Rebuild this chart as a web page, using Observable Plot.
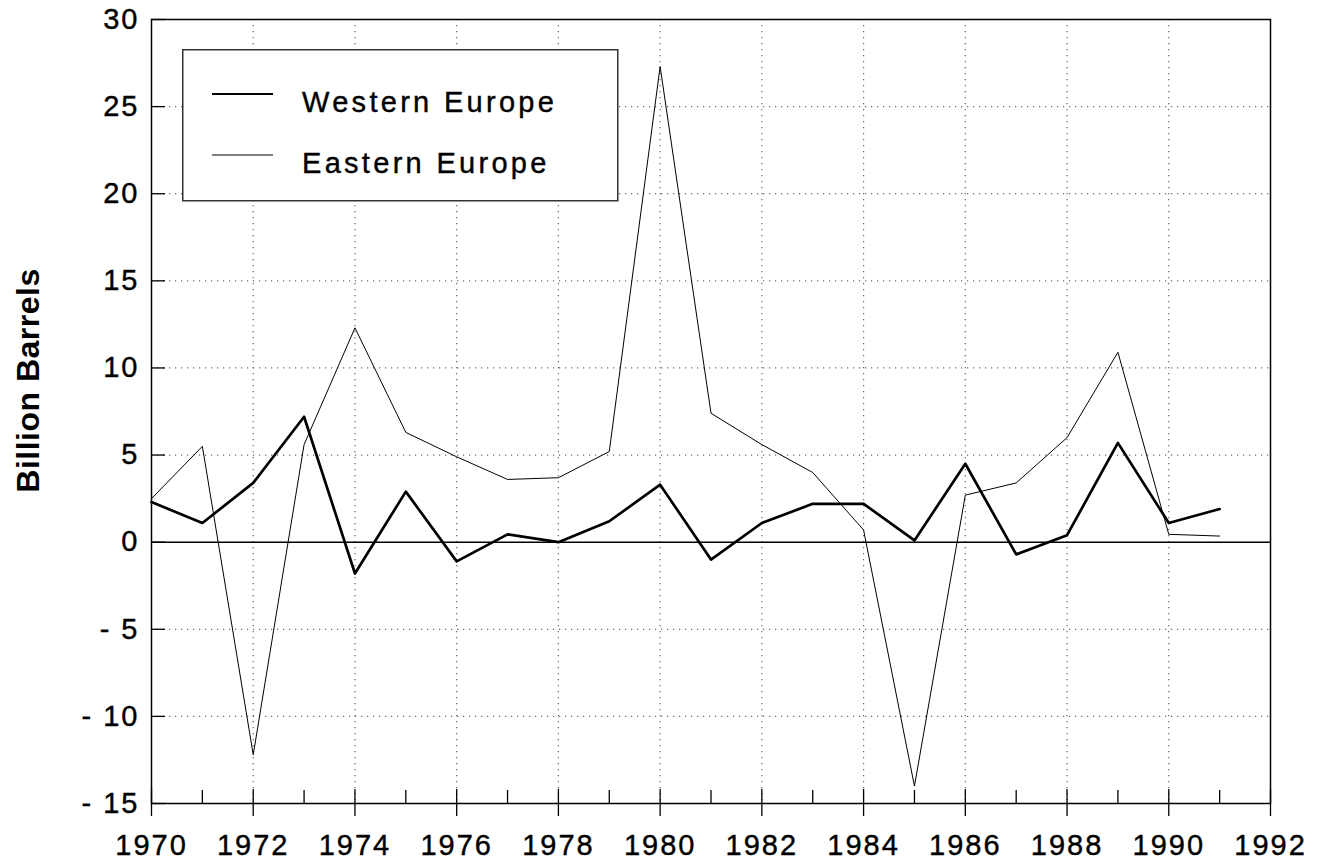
<!DOCTYPE html>
<html>
<head>
<meta charset="utf-8">
<script src="https://cdn.jsdelivr.net/npm/d3@7"></script>
<script src="https://cdn.jsdelivr.net/npm/@observablehq/plot@0.6"></script>
<style>
  body { margin: 0; background: #fff; }
  #wrap { position: relative; width: 1322px; height: 867px; }
  #legend { position: absolute; left: 182px; top: 49px; }
</style>
</head>
<body>
<div id="wrap"></div>
<script>
const years = [1970,1971,1972,1973,1974,1975,1976,1977,1978,1979,1980,1981,1982,1983,1984,1985,1986,1987,1988,1989,1990,1991];
const western = [2.3,1.1,3.4,7.2,-1.8,2.9,-1.1,0.45,0,1.2,3.3,-1.0,1.1,2.2,2.2,0.1,4.5,-0.7,0.4,5.7,1.1,1.9];
const eastern = [2.5,5.5,-12.2,5.6,12.3,6.3,4.9,3.6,3.7,5.2,27.3,7.4,5.6,4.0,0.7,-14.0,2.7,3.4,6.0,10.9,0.45,0.35];
const seriesNames = ["Western Europe", "Eastern Europe"];
const yTicks = [-15,-10,-5,0,5,10,15,20,25,30];
const xTicks = [1970,1972,1974,1976,1978,1980,1982,1984,1986,1988,1990,1992];
const xMinor = [1971,1973,1975,1977,1979,1981,1983,1985,1987,1989,1991];
const yLabel = "Billion Barrels";

const west = years.map((y, i) => ({year: y, value: western[i]}));
const east = years.map((y, i) => ({year: y, value: eastern[i]}));

const W = 1322, H = 867;
const mL = 151, mR = 52, mT = 19, mB = 64;
const innerW = W - mL - mR, innerH = H - mT - mB;
const gridX = xTicks.slice(1, -1);
const gridY = yTicks.filter(d => d !== 0 && d !== -15 && d !== 30);

const chart = Plot.plot({
  width: W,
  height: H,
  marginLeft: mL,
  marginRight: mR,
  marginTop: mT,
  marginBottom: mB,
  x: {domain: [1970, 1992]},
  y: {domain: [-15, 30]},
  style: {fontFamily: "'Liberation Sans', Arial, sans-serif", fontSize: "29px", color: "#000", background: "#fff"},
  marks: [
    Plot.ruleX(gridX, {stroke: "#666", strokeWidth: 1.2, strokeDasharray: "1.2,4.8"}),
    Plot.ruleY(gridY, {stroke: "#666", strokeWidth: 1.2, strokeDasharray: "1.2,4.8"}),
    Plot.ruleY([0], {stroke: "#000", strokeWidth: 1.5}),
    Plot.ruleY(yTicks, {stroke: "#000", strokeWidth: 1.3, insetRight: innerW - 14}),
    Plot.ruleX(xTicks, {stroke: "#000", strokeWidth: 1.3, insetTop: innerH - 14, insetBottom: -13}),
    Plot.ruleX(xMinor, {stroke: "#000", strokeWidth: 1.3, insetTop: innerH - 13}),
    Plot.line(east, {x: "year", y: "value", stroke: "#000", strokeWidth: 1}),
    Plot.line(west, {x: "year", y: "value", stroke: "#000", strokeWidth: 2.7}),
    Plot.frame({stroke: "#000", strokeWidth: 1.5}),
    Plot.axisY({ticks: yTicks, tickSize: 0, tickPadding: 12, fontSize: 29,
      tickFormat: d => d < 0 ? "- " + (-d) : String(d), label: null}),
    Plot.axisX({ticks: xTicks, tickSize: 0, tickPadding: 31, fontSize: 29,
      tickFormat: d => String(d), label: null}),
    Plot.text([yLabel], {frameAnchor: "left", textAnchor: "middle", rotate: -90, dx: -123, dy: -31,
      fontSize: 32, fontWeight: "bold", fill: "#000"})
  ]
});
const svg = d3.select(chart);
svg.selectAll("g[aria-label='y-axis tick label'] text, g[aria-label='x-axis tick label'] text")
  .style("letter-spacing", "2px")
  .attr("stroke", "#000").attr("stroke-width", 0.4);
svg.selectAll("g[aria-label='text'] text").style("letter-spacing", "0.5px");
document.getElementById("wrap").appendChild(chart);

// legend overlay
const lg = d3.select("#wrap").append("svg")
  .attr("id", "legend")
  .attr("width", 437).attr("height", 153)
  .style("font-family", "'Liberation Sans', Arial, sans-serif")
  .style("letter-spacing", "3.3px");
lg.append("rect").attr("x", 0.75).attr("y", 0.75).attr("width", 435).attr("height", 151)
  .attr("fill", "#fff").attr("stroke", "#333").attr("stroke-width", 1.5);
const rows = [
  {name: seriesNames[0], w: 2, y: 45},
  {name: seriesNames[1], w: 1, y: 106}
];
rows.forEach(r => {
  lg.append("line").attr("x1", 30).attr("x2", 91).attr("y1", r.y).attr("y2", r.y)
    .attr("stroke", "#000").attr("stroke-width", r.w);
  lg.append("text").attr("x", 120).attr("y", r.y + 18).attr("font-size", 29)
    .attr("fill", "#000").attr("stroke", "#000").attr("stroke-width", 0.4).text(r.name);
});
</script>
</body>
</html>
